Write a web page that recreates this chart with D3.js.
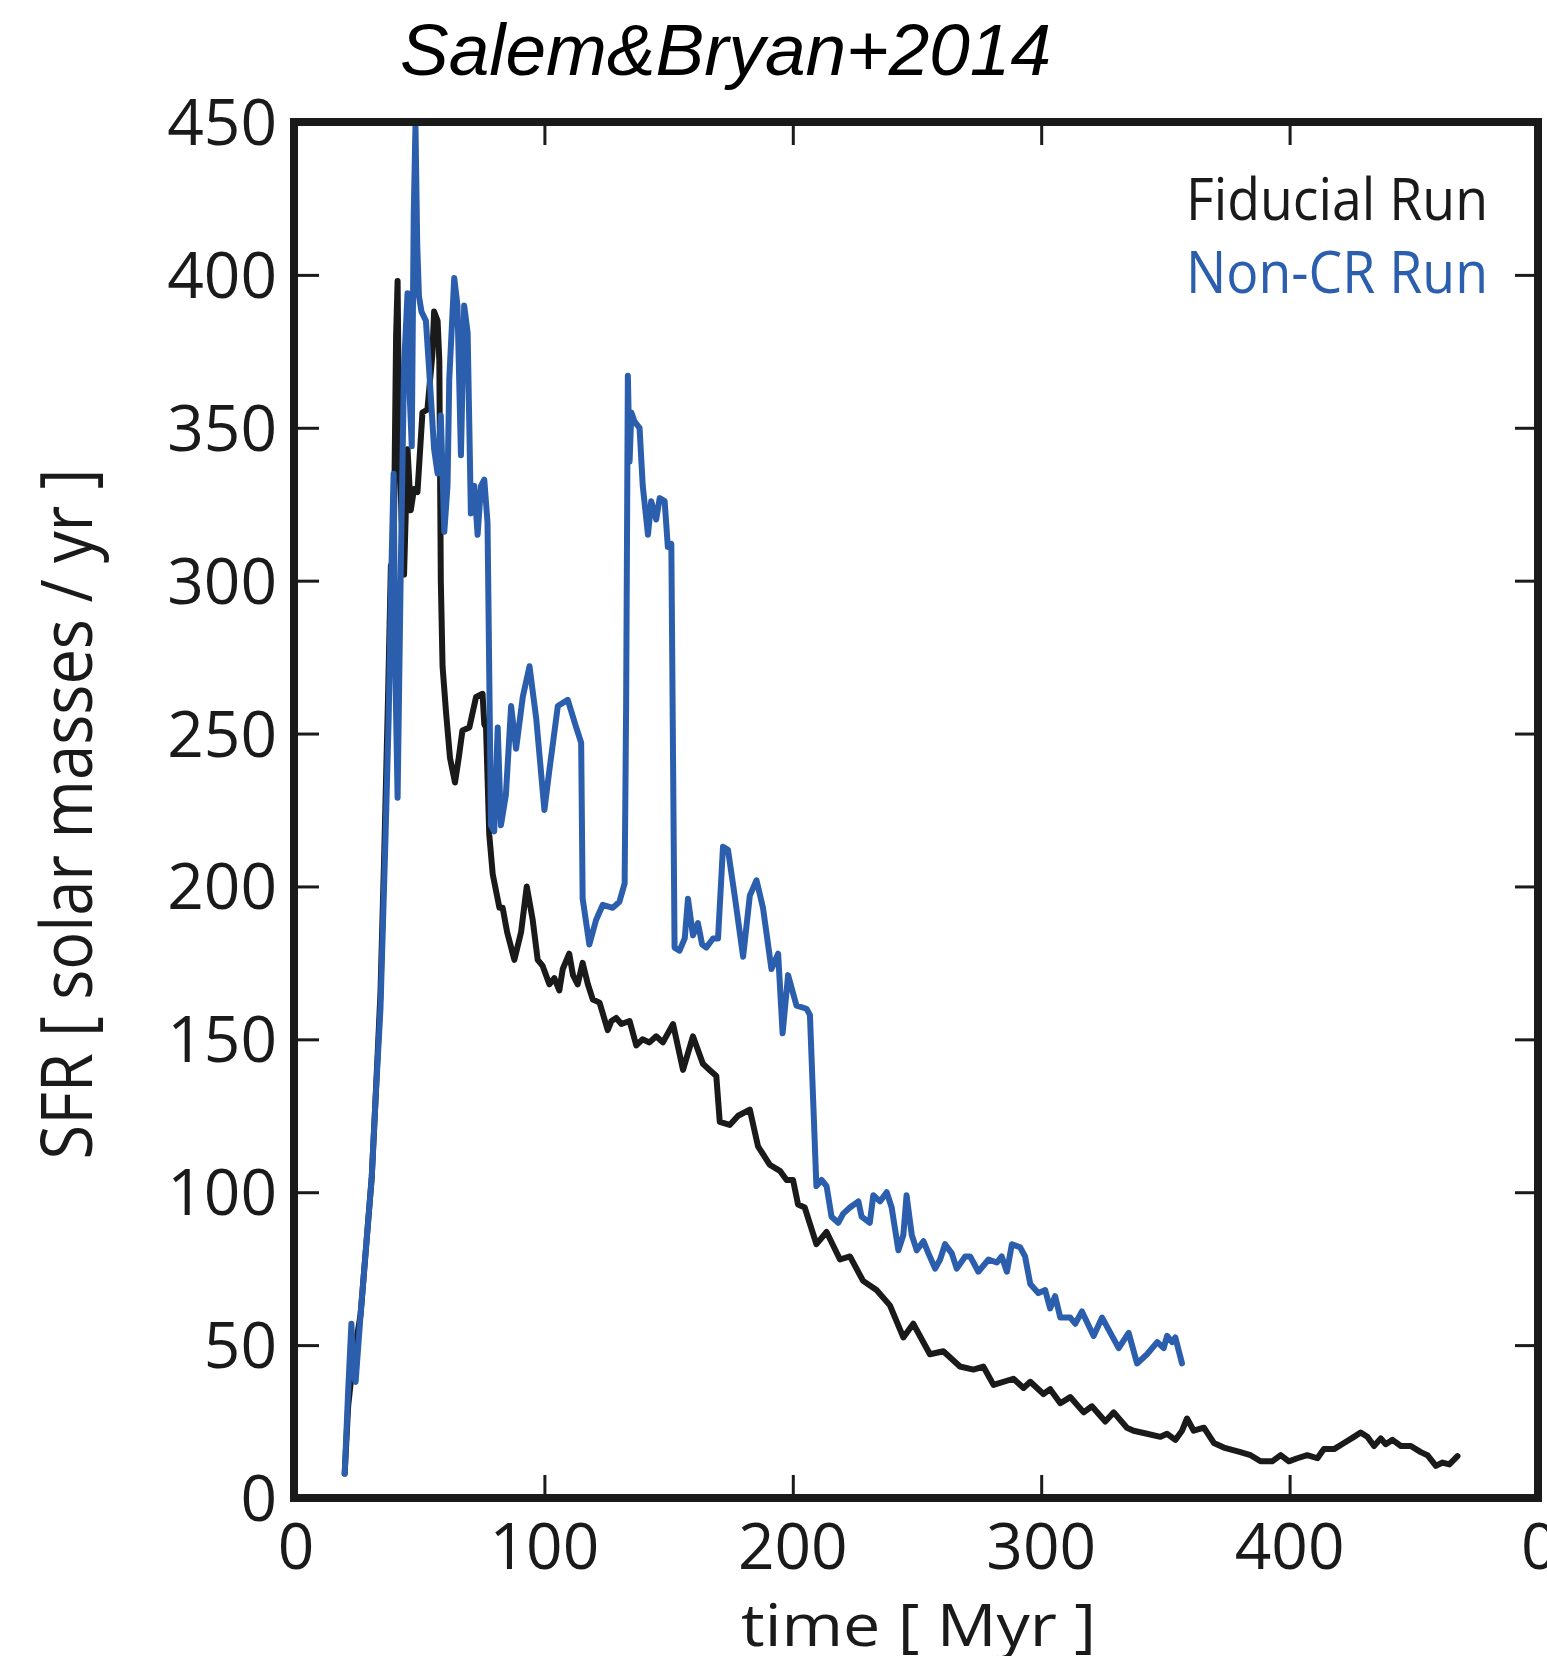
<!DOCTYPE html>
<html>
<head>
<meta charset="utf-8">
<script src="https://cdn.jsdelivr.net/npm/d3@7"></script>
<style>
  body { margin: 0; background: #ffffff; }
  svg { display: block; }
</style>
</head>
<body>
<div id="chart"></div>
<script>
// Data: [waktu (Myr), SFR (Msun/yr)]
const fiducialRun = [
  [19.6, 8], [21, 30], [23, 45], [26, 60], [28, 80], [30.5, 105], [32, 130], [34, 165],
  [35.5, 210], [37, 260], [38.2, 305], [39.2, 300], [40.3, 380], [40.9, 398], [41.5, 349],
  [42.5, 320], [43.5, 302], [44.9, 343], [46.2, 323], [47.5, 330], [48.9, 329], [50.9, 355],
  [52.9, 356], [54.9, 374], [55.6, 388], [57, 385], [57.7, 372], [58.3, 300], [59, 272],
  [60.4, 257], [62, 242], [64, 234], [65.5, 242], [67, 251], [69.8, 252], [72.5, 262],
  [75.1, 263], [75.8, 253], [76.5, 252], [77.8, 217], [79.2, 204], [81.9, 193], [83.2, 193],
  [85, 185], [87.9, 176], [90.6, 185], [92.9, 200], [95.3, 189], [97.3, 176], [99.3, 174],
  [102, 168], [104, 170], [106, 166], [107.4, 173], [110, 178], [111.5, 171], [113.4, 168],
  [115.4, 175], [117.5, 168], [119.5, 163], [122.2, 162], [125.5, 153], [127, 156],
  [128.9, 157], [131, 155], [134.3, 156], [137, 148], [139.5, 150], [142.3, 149],
  [145, 151], [147.7, 149], [151.8, 155], [155.8, 140], [159.8, 151], [163.8, 142],
  [166.5, 140], [169.2, 138], [170.6, 123], [174.6, 122], [178, 125], [182.7, 127], [186, 115],
  [190.7, 109], [194.8, 107], [197.5, 104], [200.1, 104], [202.1, 96], [204.8, 95],
  [209.5, 83], [213.6, 87], [219, 78], [223, 79], [228.3, 71], [233.7, 68], [239.1, 63],
  [244.5, 52.5], [248.5, 57], [255.2, 47], [260.6, 48], [267.3, 43], [272.7, 42],
  [276.7, 43], [280.8, 37], [288.8, 39], [292.9, 36], [295.6, 38], [300.9, 34], [303.6, 35.6],
  [307.7, 31], [311.7, 33], [317.1, 28], [320.4, 30], [325.8, 25], [329.2, 28], [334.5, 23],
  [337.2, 22], [342.6, 21], [348, 20], [350.7, 21], [354, 19], [356.7, 22], [358.7, 26],
  [361.4, 22], [365.5, 23], [369.5, 18], [373.5, 16.5], [380.2, 15], [384.3, 14],
  [388.3, 12], [393, 12], [396.4, 14], [399.7, 12], [403.1, 13], [407.1, 14], [411.2, 13],
  [413.8, 16], [417.9, 16], [421.9, 18], [425.9, 20], [428.6, 21.4], [431.3, 20], [434, 17],
  [436.7, 19.5], [438.7, 17.6], [441.4, 19], [444.8, 17], [448.8, 17], [452.8, 15],
  [455.5, 14], [458.9, 10.5], [461.6, 11.6], [464.3, 11], [467.6, 13.7]
];

const nonCrRun = [
  [19.6, 8], [21, 35], [22.3, 57], [23.2, 40], [24, 38], [26, 60], [28, 80], [30.5, 105],
  [32, 130], [34, 160], [36, 215], [37.3, 255], [38.3, 300], [39.3, 335], [40, 270],
  [40.9, 229], [42.2, 305], [43.5, 370], [44.9, 394], [45.8, 360], [46.6, 344], [47.4, 420],
  [48.1, 449], [48.8, 410], [49.5, 393], [50.5, 388], [52.3, 385], [53.6, 369], [55.6, 343],
  [57, 335], [58.3, 354], [59.7, 316], [61, 331], [61.7, 366], [63.7, 399], [65, 390],
  [66.4, 341], [67.7, 390], [69.1, 381], [70.4, 322], [71.8, 331], [73.1, 315], [74.5, 331],
  [75.8, 333], [77.1, 319], [78.5, 220], [79.8, 218], [81.2, 252], [82.5, 220], [84.5, 230],
  [86.6, 259], [88.6, 245], [91.3, 262], [94, 272], [96.7, 255], [100, 225], [102, 238],
  [105.4, 259], [109.4, 261], [112.8, 252], [114.8, 247], [115.4, 196], [118.1, 181],
  [120.8, 189], [123.5, 194], [127.5, 193], [130.2, 195], [132.3, 201], [132.9, 259],
  [133.6, 367], [134.3, 339], [135, 355], [136.3, 352], [138.3, 350], [139.6, 331],
  [141.7, 315], [143, 326], [145, 320], [146.4, 327], [148.4, 326], [149.7, 311],
  [151.1, 312], [152.4, 180], [154.4, 179], [156.5, 183], [157.8, 196], [159.8, 184],
  [161.8, 188], [163.5, 181], [165.2, 180], [167.9, 183], [169.9, 183], [171.9, 213],
  [173.9, 212], [176.6, 197], [180, 177], [182.7, 197], [185.4, 202], [188, 193],
  [191.4, 173], [194.1, 178], [195.9, 152], [198.1, 171], [201.5, 161], [205.5, 160],
  [206.9, 158], [208.2, 130], [209.5, 102], [211.6, 104], [213.6, 102], [215.6, 92],
  [218.3, 90], [220.3, 93], [223, 95], [226.4, 97], [227.7, 92], [231, 90], [232.4, 99],
  [235.1, 97], [237.8, 100], [239.8, 95], [242.5, 81], [244.5, 86], [245.8, 99], [247.9, 86],
  [249.9, 81], [252.6, 84], [254.6, 80], [257.3, 75], [259.3, 78], [261.3, 83], [264, 80],
  [266, 75], [269.4, 79], [271.4, 79], [274.7, 74], [278.8, 78], [282.1, 77], [284.1, 79],
  [286.2, 74], [288.2, 83], [291.5, 82], [293.5, 79], [295.6, 70], [298.9, 67], [301.6, 68],
  [303.6, 62], [305.6, 66], [307.7, 59], [311.7, 59], [313.7, 57], [316.4, 61], [321.1, 53],
  [324.5, 59], [331.2, 49], [335.2, 54], [338.6, 44], [342.6, 47], [346.7, 51], [349.3, 49],
  [350.7, 53], [352.7, 51], [354, 52.5], [356.7, 44]
];

const xTicks = [0, 100, 200, 300, 400, 500];
const yTicks = [0, 50, 100, 150, 200, 250, 300, 350, 400, 450];
const seriesNames = ["Fiducial Run", "Non-CR Run"];
const seriesColors = ["#1a1a1a", "#2b5fae"];

// Dimensi
const width = 1547,
  height = 1656;
const plot = { left: 296, right: 1538, top: 122, bottom: 1498 };

const svg = d3
  .select("#chart")
  .append("svg")
  .attr("width", width)
  .attr("height", height);

const x = d3.scaleLinear().domain([0, 500]).range([plot.left, plot.right]);
const y = d3.scaleLinear().domain([0, 450]).range([plot.bottom, plot.top]);

const tickFont = "'Open Sans', 'Noto Sans', sans-serif";

// Clip area plot
svg
  .append("clipPath")
  .attr("id", "clip")
  .append("rect")
  .attr("x", plot.left)
  .attr("y", plot.top)
  .attr("width", plot.right - plot.left)
  .attr("height", plot.bottom - plot.top);

// Garis data
const line = d3
  .line()
  .x((d) => x(d[0]))
  .y((d) => y(d[1]));

const lines = svg.append("g").attr("clip-path", "url(#clip)");
[fiducialRun, nonCrRun].forEach((series, i) => {
  lines
    .append("path")
    .datum(series)
    .attr("d", line)
    .attr("fill", "none")
    .attr("stroke", seriesColors[i])
    .attr("stroke-width", 6)
    .attr("stroke-linejoin", "round")
    .attr("stroke-linecap", "round");
});

// Sumbu (tick ke dalam)
const tickLen = 23;
function styleAxis(g) {
  g.select(".domain").remove();
  g.selectAll(".tick line").attr("stroke", "#1a1a1a").attr("stroke-width", 3);
}

svg
  .append("g")
  .attr("transform", `translate(0,${plot.bottom})`)
  .call(d3.axisBottom(x).tickValues(xTicks).tickSize(-tickLen).tickFormat(""))
  .call(styleAxis);
svg
  .append("g")
  .attr("transform", `translate(0,${plot.top})`)
  .call(d3.axisTop(x).tickValues(xTicks).tickSize(-tickLen).tickFormat(""))
  .call(styleAxis);
svg
  .append("g")
  .attr("transform", `translate(${plot.left},0)`)
  .call(d3.axisLeft(y).tickValues(yTicks).tickSize(-tickLen).tickFormat(""))
  .call(styleAxis);
svg
  .append("g")
  .attr("transform", `translate(${plot.right},0)`)
  .call(d3.axisRight(y).tickValues(yTicks).tickSize(-tickLen).tickFormat(""))
  .call(styleAxis);

// Bingkai
svg
  .append("rect")
  .attr("x", plot.left - 2)
  .attr("y", plot.top)
  .attr("width", plot.right - plot.left + 2)
  .attr("height", plot.bottom - plot.top)
  .attr("fill", "none")
  .attr("stroke", "#1a1a1a")
  .attr("stroke-width", 8);

// Label tick
svg
  .append("g")
  .selectAll("text")
  .data(yTicks)
  .enter()
  .append("text")
  .attr("x", 277)
  .attr("y", (d) => y(d))
  .attr("dy", "0.36em")
  .attr("text-anchor", "end")
  .style("font-family", tickFont)
  .style("font-size", "64px")
  .style("fill", "#1a1a1a")
  .text((d) => d);

svg
  .append("g")
  .selectAll("text")
  .data(xTicks.slice(0, 5))
  .enter()
  .append("text")
  .attr("x", (d) => x(d))
  .attr("y", 1569)
  .attr("text-anchor", "middle")
  .style("font-family", tickFont)
  .style("font-size", "64px")
  .style("fill", "#1a1a1a")
  .text((d) => d);

// label panel sebelah (terpotong di tepi kanan)
svg
  .append("text")
  .attr("x", 1521)
  .attr("y", 1569)
  .style("font-family", tickFont)
  .style("font-size", "64px")
  .style("fill", "#1a1a1a")
  .text("0");

// Judul sumbu
svg
  .append("text")
  .attr("x", 741)
  .attr("y", 1646)
  .attr("textLength", 355)
  .attr("lengthAdjust", "spacingAndGlyphs")
  .style("font-family", tickFont)
  .style("font-size", "58px")
  .style("fill", "#1a1a1a")
  .text("time [ Myr ]");

svg
  .append("text")
  .attr("transform", "translate(92,814) rotate(-90)")
  .attr("text-anchor", "middle")
  .attr("textLength", 691)
  .attr("lengthAdjust", "spacingAndGlyphs")
  .style("font-family", tickFont)
  .style("font-size", "72px")
  .style("fill", "#1a1a1a")
  .text("SFR [ solar masses / yr ]");

// Judul
svg
  .append("text")
  .attr("x", 400)
  .attr("y", 75)
  .attr("textLength", 651)
  .attr("lengthAdjust", "spacingAndGlyphs")
  .style("font-family", "'Liberation Sans', Arial, sans-serif")
  .style("font-style", "italic")
  .style("font-size", "72px")
  .style("fill", "#000")
  .text("Salem&Bryan+2014");

// Legenda
seriesNames.forEach((name, i) => {
  svg
    .append("text")
    .attr("x", 1186)
    .attr("y", 220 + i * 73)
    .attr("textLength", 302)
    .attr("lengthAdjust", "spacingAndGlyphs")
    .style("font-family", tickFont)
    .style("font-size", "58px")
    .style("fill", seriesColors[i])
    .text(name);
});
</script>
</body>
</html>
